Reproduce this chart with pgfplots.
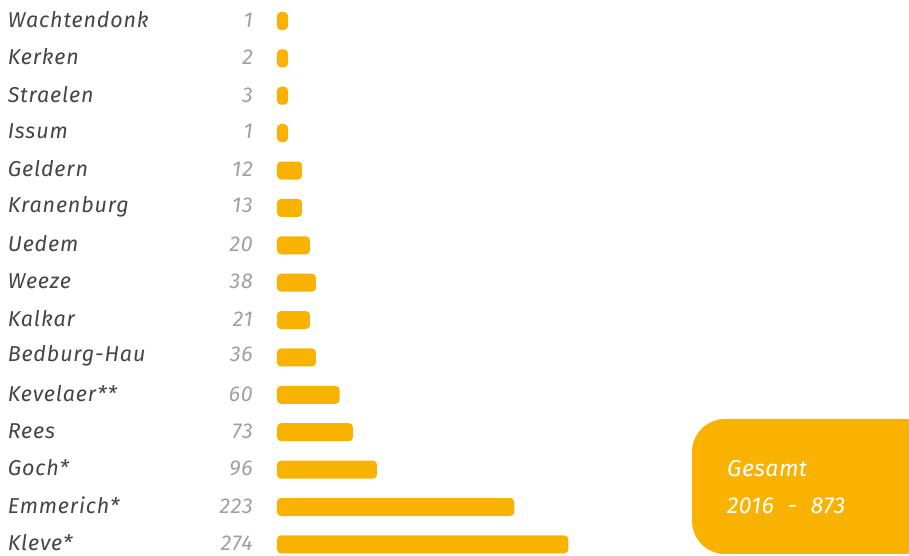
\documentclass[border=0pt]{standalone}
\usepackage{pgfplots}
\pgfplotsset{compat=1.18}
\usepackage{pgfplotstable}
\usepackage{fontspec}
\setmainfont{Fira Sans}[LetterSpace=4]
\newfontfamily\boxfont{Fira Sans}[LetterSpace=2]
\definecolor{barc}{HTML}{F9B200}
\definecolor{namec}{HTML}{454545}
\definecolor{numc}{HTML}{A0A0A0}
\newcommand{\lab}[2]{\makebox[245bp][l]{\color{namec}#1\hfill\color{numc}#2}}
% idx = row, len = drawn bar length, val = printed value
\pgfplotstableread{
idx len val
0 10.4 1
1 10.4 2
2 10.4 3
3 10.4 1
4 23.5 12
5 23.5 13
6 31 20
7 36.7 38
8 31 21
9 36.7 36
10 58.9 60
11 71.5 73
12 94.1 96
13 223.3 223
14 274.2 274
}\data
\begin{document}
\begin{tikzpicture}
\begin{axis}[
  name=ax,
  at={(0,0)}, anchor=south west,
  scale only axis,
  width=632bp, height=556bp,
  xmin=0, xmax=594.8,
  ymin=-0.56, ymax=14.31,
  y dir=reverse,
  axis line style={draw=none},
  xtick=\empty,
  ytick={0,...,14},
  major tick length=0pt,
  yticklabels={
    {\lab{Wachtendonk}{1}},
    {\lab{Kerken}{2}},
    {\lab{Straelen}{3}},
    {\lab{Issum}{1}},
    {\lab{Geldern}{12}},
    {\lab{Kranenburg}{13}},
    {\lab{Uedem}{20}},
    {\lab{Weeze}{38}},
    {\lab{Kalkar}{21}},
    {\lab{Bedburg-Hau}{36}},
    {\lab{Kevelaer**}{60}},
    {\lab{Rees}{73}},
    {\lab{Goch*}{96}},
    {\lab{Emmerich*}{223}},
    {\lab{Kleve*}{274}}
  },
  yticklabel style={anchor=east, inner sep=0pt, xshift=-24bp, yshift=1.5bp,
    font=\fontsize{21.5bp}{24bp}\selectfont\itshape},
  xbar, bar width=18bp,
  clip=false,
]
\addplot[fill=barc, draw=none, rounded corners=4bp] table[x=len, y=idx] {\data};
\end{axis}
\fill[barc, rounded corners=33bp] (415bp,2bp) rectangle (660bp,137bp);
\node[anchor=base west, inner sep=0pt, text=white, font=\fontsize{23bp}{26bp}\boxfont\itshape] at (450bp,79.3bp) {Gesamt};
\node[anchor=base west, inner sep=0pt, text=white, font=\fontsize{23bp}{26bp}\boxfont\itshape] at (450bp,42.7bp) {2016\hspace{14bp}-\hspace{14bp}873};
\pgfresetboundingbox
\path[use as bounding box] (-277bp,0) rectangle (632bp,556bp);
\end{tikzpicture}
\end{document}
